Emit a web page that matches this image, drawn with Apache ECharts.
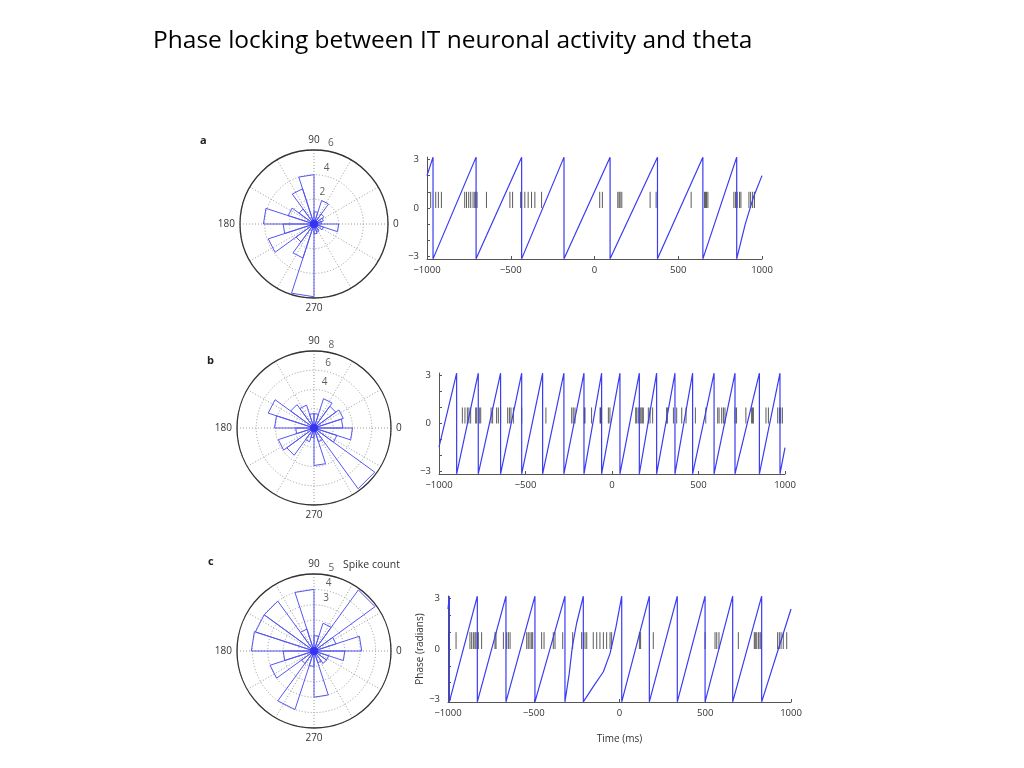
<!DOCTYPE html>
<html>
<head>
<meta charset="utf-8">
<title>Phase locking between IT neuronal activity and theta</title>
<script src="https://cdn.jsdelivr.net/npm/echarts@6/dist/echarts.min.js"></script>
<style>
html, body { margin: 0; padding: 0; background: #fff; }
#chart { width: 1024px; height: 768px; }
</style>
</head>
<body>
<div id="chart"></div>
<script>
// rose histograms: spike count per 18 deg bin, from 0 deg counter-clockwise
const roseA = [0.6, 0.8, 1.0, 2.0, 1.0, 4.0, 3.0, 1.5, 2.2, 4.1, 2.5, 3.9, 1.8, 2.9, 5.9, 0.8, 0.7, 0.6, 0.8, 2.0]
const roseB = [3.0, 3.2, 2.8, 3.2, 1.5, 1.5, 2.5, 3.0, 5.0, 4.1, 1.9, 3.9, 3.5, 1.5, 1.0, 3.9, 1.5, 7.8, 2.5, 4.0]
const roseC = [3.1, 1.5, 4.9, 1.9, 1.0, 4.0, 1.5, 4.0, 4.0, 4.07, 2.0, 3.0, 1.0, 4.0, 1.0, 3.0, 0.8, 1.0, 1.0, 2.0]
const ringMax = [6, 8, 5]
const ringStep = [2, 2, 1]
const ringLabels = [[2, 4, 6], [4, 6, 8], [3, 4, 5]]
const angleLabels = [0, 90, 180, 270]

// theta phase: times (ms) where phase wraps from pi to -pi
const wrapA = [-964, -707, -435, -182, 93, 376, 647, 849]
const wrapB = [-898, -773, -644, -522, -401, -278, -162, -60, 46, 158, 258, 364, 466, 590, 711, 852, 971]
const wrapC = [-992, -829, -662, -493, -318, -211, 13, 174, 337, 499, 660, 829]
// phase at -1000 and at 1000 ms
const edgeA = [2.0, 2.0]
const edgeB = [-1.47, -1.5]
const edgeC = [2.38, 2.38]
// extra points where a ramp is not straight [ms, rad]
const bendA = [[900, -1.0], [950, 0.7]]
const bendB = []
const bendC = [[-293, -1.45], [-275, 0.14], [-250, 1.53], [-153, -2.24], [-94, -1.35], [-55, -0.26], [-20, 1.33]]

// spike times (ms)
const spikesA = [-978, -948, -932, -914, -775, -764, -751, -739, -725, -715, -709, -701, -645, -505, -489, -441, -435, -416, -396, -376, -356, -316, 31, 47, 139, 147, 153, 163, 332, 368, 577, 657, 663, 669, 677, 832, 842, 852, 866, 874, 922, 932, 944, 955]
const spikesB = [-865, -850, -836, -827, -817, -788, -782, -767, -759, -699, -690, -667, -657, -644, -603, -593, -584, -570, -522, -382, -233, -224, -214, -160, -156, -118, -69, -66, -60, -21, -12, 137, 143, 152, 162, 168, 175, 181, 210, 220, 235, 316, 320, 355, 374, 403, 428, 482, 542, 611, 619, 634, 644, 653, 711, 720, 774, 807, 813, 817, 890, 904, 958, 968, 975, 985]
const spikesC = [-994, -953, -872, -862, -852, -843, -837, -829, -823, -804, -726, -720, -677, -658, -648, -638, -541, -532, -522, -512, -506, -454, -440, -386, -376, -331, -273, -221, -211, -201, -191, -153, -133, -114, -94, -75, -55, -46, 116, 123, 197, 499, 557, 567, 580, 693, 786, 792, 800, 810, 819, 825, 922, 932, 942, 955, 975]

const xTicks = [-1000, 1000, 500]   // min, max, step
const yTickValues = [-3, -2, -1, 0, 1, 2, 3]
const yLabelValues = [-3, 0, 3]

const roses = [roseA, roseB, roseC]
const wraps = [wrapA, wrapB, wrapC]
const edges = [edgeA, edgeB, edgeC]
const bends = [bendA, bendB, bendC]
const spikes = [spikesA, spikesB, spikesC]

const polarBoxes = [
  { center: [314, 224], radius: 74 },
  { center: [314, 428], radius: 77 },
  { center: [314, 651], radius: 77 }
]
const gridBoxes = [
  { left: 427, top: 157, width: 335, height: 102 },
  { left: 439, top: 373, width: 346, height: 101 },
  { left: 448, top: 596, width: 343, height: 106 }
]

const BLUE = '#3b3bf2'
const ROSE = '#5656f4'
const FONT = 'Open Sans'
const minus = v => String(v).replace('-', '\u2212')

function rosePath (counts) {
  const w = 360 / counts.length
  const pts = []
  counts.forEach((c, k) => {
    pts.push([0, k * w], [c, k * w], [c, (k + 1) * w], [0, (k + 1) * w])
  })
  return pts
}

function phaseTrace (wrap, edge, bend) {
  const pts = [[xTicks[0], edge[0]]]
  wrap.forEach(t => { pts.push([t, Math.PI], [t, -Math.PI]) })
  bend.forEach(b => pts.push(b))
  pts.push([xTicks[1], edge[1]])
  return pts.sort((p, q) => p[0] - q[0])
}

const chart = echarts.init(document.getElementById('chart'))

const angleAxis = [], radiusAxis = [], xAxis = [], yAxis = [], series = []

for (let i = 0; i < 3; i++) {
  angleAxis.push({
    polarIndex: i,
    type: 'value',
    min: 0,
    max: 360,
    interval: 30,
    startAngle: 0,
    clockwise: false,
    axisLine: { lineStyle: { color: '#333', width: 1.3 } },
    axisTick: { show: false },
    splitLine: { show: true, lineStyle: { color: '#9a9a9a', type: [1, 2], width: 1 } },
    axisLabel: {
      margin: 5,
      color: '#333',
      fontSize: 10,
      fontFamily: FONT,
      formatter: v => (angleLabels.indexOf(v) >= 0 ? String(v) : '')
    }
  })
  radiusAxis.push({
    polarIndex: i,
    type: 'value',
    min: 0,
    max: ringMax[i],
    interval: ringStep[i],
    axisLine: { show: false },
    axisTick: { show: false },
    axisLabel: { show: false },
    splitLine: { show: true, lineStyle: { color: '#9a9a9a', type: [1, 2], width: 1 } }
  })
  series.push({
    type: 'line',
    coordinateSystem: 'polar',
    polarIndex: i,
    data: rosePath(roses[i]),
    showSymbol: false,
    symbol: 'none',
    lineStyle: { color: ROSE, width: 1 },
    z: 3
  })
  series.push({
    type: 'scatter',
    coordinateSystem: 'polar',
    polarIndex: i,
    data: [[0, 0]],
    symbolSize: 8,
    itemStyle: { color: '#2a2af0' },
    z: 4
  })
  series.push({
    type: 'scatter',
    coordinateSystem: 'polar',
    polarIndex: i,
    data: ringLabels[i].map(r => [r, 80]),
    symbolSize: 1,
    itemStyle: { color: 'rgba(0,0,0,0)' },
    label: {
      show: true,
      position: 'top',
      distance: 2,
      offset: [4, 0],
      color: '#333',
      fontSize: 10,
      fontFamily: FONT,
      formatter: p => String(p.value[0])
    },
    z: 5
  })

  xAxis.push({
    gridIndex: i,
    type: 'value',
    min: xTicks[0],
    max: xTicks[1],
    interval: xTicks[2],
    axisLine: { onZero: false, lineStyle: { color: '#555', width: 1 } },
    axisTick: { inside: true, length: 3, lineStyle: { color: '#555' } },
    axisLabel: { margin: 6, color: '#333', fontSize: 9.5, fontFamily: FONT, formatter: minus },
    splitLine: { show: false },
    name: i === 2 ? 'Time (ms)' : '',
    nameLocation: 'middle',
    nameGap: 32,
    nameTextStyle: { color: '#333', fontSize: 10, fontFamily: FONT }
  })
  yAxis.push({
    gridIndex: i,
    type: 'value',
    min: -3.15,
    max: 3.15,
    axisLine: { show: true, onZero: false, lineStyle: { color: '#555', width: 1 } },
    axisTick: { show: true, inside: true, length: 3, lineStyle: { color: '#555' }, customValues: yTickValues },
    axisLabel: { margin: 8, color: '#333', fontSize: 9.5, fontFamily: FONT, formatter: minus, customValues: yLabelValues },
    splitLine: { show: false },
    name: i === 2 ? 'Phase (radians)' : '',
    nameLocation: 'middle',
    nameGap: 22,
    nameTextStyle: { color: '#333', fontSize: 10, fontFamily: FONT }
  })
  series.push({
    type: 'custom',
    xAxisIndex: i,
    yAxisIndex: i,
    data: spikes[i].map(t => [t, 1]),
    encode: { x: 0, y: 1 },
    renderItem: (params, api) => {
      const p0 = api.coord([api.value(0), 0])
      const p1 = api.coord([api.value(0), 1])
      return {
        type: 'line',
        shape: { x1: p0[0], y1: p0[1], x2: p1[0], y2: p1[1] },
        style: { stroke: '#333', lineWidth: 1, opacity: 0.8 }
      }
    },
    z: 2
  })
  series.push({
    type: 'line',
    xAxisIndex: i,
    yAxisIndex: i,
    data: phaseTrace(wraps[i], edges[i], bends[i]),
    showSymbol: false,
    symbol: 'none',
    lineStyle: { color: BLUE, width: 1.2 },
    z: 3
  })
}

chart.setOption({
  backgroundColor: '#fff',
  animation: false,
  title: {
    text: 'Phase locking between IT neuronal activity and theta',
    left: 148,
    top: 24,
    textStyle: { fontFamily: 'Open Sans', fontSize: 24.5, fontWeight: 'normal', color: '#000' }
  },
  polar: polarBoxes,
  angleAxis: angleAxis,
  radiusAxis: radiusAxis,
  grid: gridBoxes.map(g => Object.assign({ outerBoundsMode: 'none' }, g)),
  xAxis: xAxis,
  yAxis: yAxis,
  series: series,
  graphic: [
    { type: 'text', left: 200, top: 135, style: { text: 'a', font: 'bold 11px "Open Sans"', fill: '#222' } },
    { type: 'text', left: 207, top: 355, style: { text: 'b', font: 'bold 11px "Open Sans"', fill: '#222' } },
    { type: 'text', left: 208, top: 556, style: { text: 'c', font: 'bold 11px "Open Sans"', fill: '#222' } },
    { type: 'text', left: 343, top: 560, style: { text: 'Spike count', font: '10.5px "Open Sans"', fill: '#333' } }
  ]
})
</script>
</body>
</html>
